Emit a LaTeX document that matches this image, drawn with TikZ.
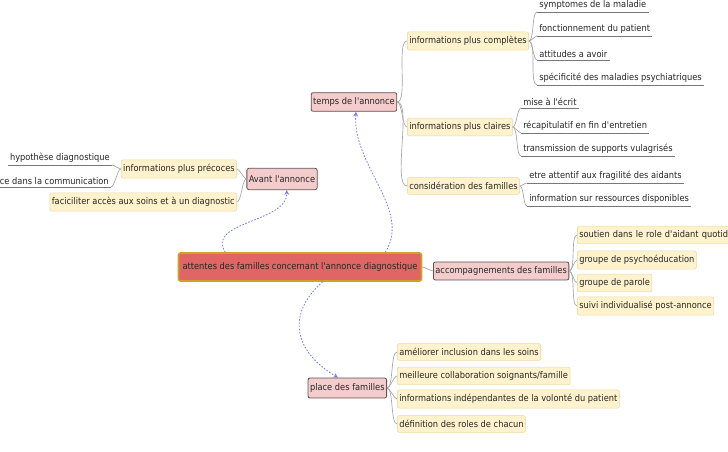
\documentclass[tikz,border=0pt]{standalone}
\usepackage{fontspec}
\setmainfont{DejaVu Sans Condensed}[Ligatures=TeXOff]
\usepackage{tikz}

\definecolor{rootfill}{RGB}{224,102,102}
\definecolor{rootline}{RGB}{212,160,40}
\definecolor{topicfill}{RGB}{244,204,204}
\definecolor{topicline}{RGB}{96,80,80}
\definecolor{ideafill}{RGB}{255,242,204}
\definecolor{idealine}{RGB}{232,216,168}
\definecolor{branchgray}{RGB}{165,165,165}
\definecolor{ulinegray}{RGB}{120,120,120}
\definecolor{linkblue}{RGB}{120,120,240}

\begin{document}
\begin{tikzpicture}[x=0.75pt,y=0.75pt,yscale=-1,xscale=1,
  every node/.style={font=\fontsize{6.9}{8}\selectfont, text=black!85},
  rootnode/.style={draw=rootline, fill=rootfill, line width=1.2pt, rounded corners=1.5pt, inner xsep=3pt, minimum height=21pt},
  topicnode/.style={draw=topicline, fill=topicfill, line width=0.6pt, rounded corners=1.5pt, inner xsep=1.5pt, minimum height=14pt},
  ideanode/.style={draw=idealine, fill=ideafill, line width=0.4pt, rounded corners=1.5pt, inner xsep=1.5pt, minimum height=12.5pt},
  leafnode/.style={inner xsep=1.5pt, inner ysep=1.5pt},
  branch/.style={draw=branchgray, line width=0.5pt, looseness=0.45},
  uline/.style={draw=ulinegray, line width=0.6pt},
  link/.style={draw=linkblue, line width=0.6pt, dash pattern=on 1.2pt off 1.2pt, -stealth}
]
\useasboundingbox (0,0) rectangle (728,452);
\clip (0,0) rectangle (728,452);

% central idea
\node[rootnode] (root) at (300,267) {attentes des familles concernant l'annonce diagnostique};

% Avant l'annonce
\node[topicnode, minimum height=16pt] (avant) at (282,179) {Avant l'annonce};
\node[ideanode, anchor=east] (precoces) at (237,169) {informations plus précoces};
\node[ideanode, anchor=east] (acces) at (237,202) {faciciliter accès aux soins et à un diagnostic};
\node[leafnode, anchor=south east] (hypo) at (112,165) {hypothèse diagnostique};
\node[leafnode, anchor=south east] (commu) at (111,187) {nce dans la communication};

% temps de l'annonce
\node[topicnode] (temps) at (354,102) {temps de l'annonce};
\node[ideanode, anchor=west] (completes) at (407,41) {informations plus complètes};
\node[leafnode, anchor=south west] (symp) at (537,12) {symptomes de la maladie};
\node[leafnode, anchor=south west] (fonct) at (537,36) {fonctionnement du patient};
\node[leafnode, anchor=south west] (attit) at (537,60) {attitudes a avoir};
\node[leafnode, anchor=south west] (specif) at (537,85) {spécificité des maladies psychiatriques};
\node[ideanode, anchor=west] (claires) at (407,127) {informations plus claires};
\node[leafnode, anchor=south west] (ecrit) at (521,108) {mise à l'écrit};
\node[leafnode, anchor=south west] (recap) at (521,133) {récapitulatif en fin d'entretien};
\node[leafnode, anchor=south west] (supports) at (521,156) {transmission de supports vulagrisés};
\node[ideanode, anchor=west] (consid) at (407,186) {considération des familles};
\node[leafnode, anchor=south west] (fragil) at (527,183) {etre attentif aux fragilité des aidants};
\node[leafnode, anchor=south west] (ressour) at (527,206) {information sur ressources disponibles};

% accompagnements des familles
\node[topicnode, anchor=west, minimum height=13.5pt] (accomp) at (433,271) {accompagnements des familles};
\node[ideanode, anchor=west, text width=150pt, align=left] (soutien) at (577,235) {soutien dans le role d'aidant quotidi};
\node[ideanode, anchor=west] (psycho) at (577,260) {groupe de psychoéducation};
\node[ideanode, anchor=west] (parole) at (577,283) {groupe de parole};
\node[ideanode, anchor=west] (suivi) at (577,306) {suivi individualisé post-annonce};

% place des familles
\node[topicnode, anchor=east, minimum height=15pt] (place) at (387,388) {place des familles};
\node[ideanode, anchor=west] (inclus) at (397,352) {améliorer inclusion dans les soins};
\node[ideanode, anchor=west] (collab) at (397,376) {meilleure collaboration soignants/famille};
\node[ideanode, anchor=west] (volonte) at (397,399) {informations indépendantes de la volonté du patient};
\node[ideanode, anchor=west] (roles) at (397,424) {définition des roles de chacun};

% branches
\draw[branch] (avant.west) to[out=180,in=0] (precoces.east);
\draw[branch] (avant.west) to[out=180,in=0] (acces.east);
\draw[branch] (precoces.west) to[out=180,in=0] (hypo.south east);
\draw[branch] (precoces.west) to[out=180,in=0] (commu.south east);
\foreach \n in {completes,claires,consid}
  \draw[branch] (temps.east) to[out=0,in=180] (\n.west);
\foreach \n in {symp,fonct,attit,specif}
  \draw[branch] (completes.east) to[out=0,in=180] (\n.south west);
\foreach \n in {ecrit,recap,supports}
  \draw[branch] (claires.east) to[out=0,in=180] (\n.south west);
\foreach \n in {fragil,ressour}
  \draw[branch] (consid.east) to[out=0,in=180] (\n.south west);
\draw[branch] (root.east) to[out=0,in=180] (accomp.west);
\foreach \n in {soutien,psycho,parole,suivi}
  \draw[branch] (accomp.east) to[out=0,in=180] (\n.west);
\foreach \n in {inclus,collab,volonte,roles}
  \draw[branch] (place.east) to[out=0,in=180] (\n.west);

% underlines of the leaves
\foreach \n in {hypo,commu,symp,fonct,attit,specif,ecrit,recap,supports,fragil,ressour}
  \draw[uline] (\n.south west) -- (\n.south east);

% links
\draw[link] ([xshift=-56pt]root.north) .. controls (205,222) and (288,222) .. ([xshift=3.5pt]avant.south);
\draw[link] ([xshift=64pt]root.north) .. controls (412,210) and (352,165) .. ([xshift=1.5pt]temps.south);
\draw[link] ([xshift=17pt]root.south) .. controls (285,315) and (295,352) .. ([xshift=-7pt]place.north);

\end{tikzpicture}
\end{document}
